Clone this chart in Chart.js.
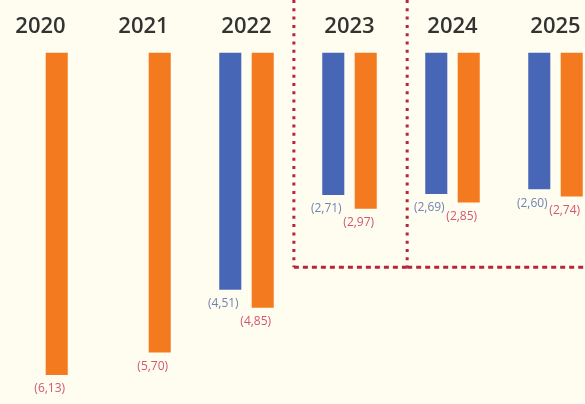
<!DOCTYPE html>
<html>
<head>
<meta charset="utf-8">
<script src="https://cdn.jsdelivr.net/npm/chart.js@4/dist/chart.umd.min.js"></script>
<style>
  html, body { margin: 0; padding: 0; background: #fffdf0; overflow: hidden; }
  #wrap { position: absolute; left: -11px; top: 0; width: 618px; height: 404px; }
</style>
</head>
<body>
<div id="wrap"><canvas id="c" width="618" height="404"></canvas></div>
<script>
// Years along the top axis
const years = ['2020', '2021', '2022', '2023', '2024', '2025'];
// Losses per year (negative values hang down from the top)
const blueValues = [null, null, -4.51, -2.71, -2.69, -2.60];
const orangeValues = [-6.13, -5.70, -4.85, -2.97, -2.85, -2.74];

const blueColor = '#4766b6';
const orangeColor = '#f47a1f';
const blueLabelColor = '#7283b4';
const orangeLabelColor = '#d2566f';

// Writes "(x,yz)" under the end of each bar
const valueLabels = {
  id: 'valueLabels',
  afterDatasetsDraw(chart) {
    const ctx = chart.ctx;
    ctx.save();
    ctx.font = '12px "Open Sans"';
    ctx.textAlign = 'center';
    ctx.textBaseline = 'middle';
    chart.data.datasets.forEach((ds, di) => {
      const meta = chart.getDatasetMeta(di);
      meta.data.forEach((el, i) => {
        const v = ds.data[i];
        if (v === null || v === undefined) return;
        const txt = '(' + Math.abs(v).toFixed(2).replace('.', ',') + ')';
        ctx.fillStyle = ds.labelColor;
        ctx.fillText(txt, el.x - 7, el.y + 14);
      });
    });
    ctx.restore();
  }
};

// Red dotted frames around 2023 and around 2024-2025
const frames = {
  id: 'frames',
  afterDatasetsDraw(chart) {
    const ctx = chart.ctx;
    const x = chart.scales.x, y = chart.scales.y;
    const xa = x.getPixelForValue(2.46);
    const xb = x.getPixelForValue(3.56);
    const yb = y.getPixelForValue(-4.08);
    const right = chart.width + 5;
    ctx.save();
    ctx.strokeStyle = '#b8243c';
    ctx.lineWidth = 3;
    ctx.lineCap = 'butt';
    // verticals
    ctx.setLineDash([3, 5.3]);
    [xa, xb].forEach(px => {
      ctx.beginPath();
      ctx.moveTo(px, 0);
      ctx.lineTo(px, yb);
      ctx.stroke();
    });
    // bottoms
    ctx.setLineDash([5, 4]);
    ctx.beginPath();
    ctx.moveTo(xa, yb);
    ctx.lineTo(xb, yb);
    ctx.stroke();
    ctx.beginPath();
    ctx.moveTo(xb, yb);
    ctx.lineTo(right, yb);
    ctx.stroke();
    ctx.restore();
  }
};

new Chart(document.getElementById('c'), {
  type: 'bar',
  data: {
    labels: years,
    datasets: [
      { data: blueValues, backgroundColor: blueColor, labelColor: blueLabelColor,
        categoryPercentage: 0.63, barPercentage: 0.68 },
      { data: orangeValues, backgroundColor: orangeColor, labelColor: orangeLabelColor,
        categoryPercentage: 0.63, barPercentage: 0.68 }
    ]
  },
  options: {
    responsive: false,
    animation: false,
    layout: { padding: { top: 2, bottom: 0, left: 0, right: 0 } },
    plugins: { legend: { display: false }, tooltip: { enabled: false } },
    scales: {
      x: {
        position: 'top',
        grid: { display: false, drawTicks: false },
        border: { display: false },
        ticks: {
          padding: 12,
          color: '#333333',
          font: { family: '"Open Sans"', size: 22, weight: '600' }
        }
      },
      y: {
        display: false,
        min: -6.68,
        max: 0
      }
    }
  },
  plugins: [frames, valueLabels]
});
</script>
</body>
</html>
